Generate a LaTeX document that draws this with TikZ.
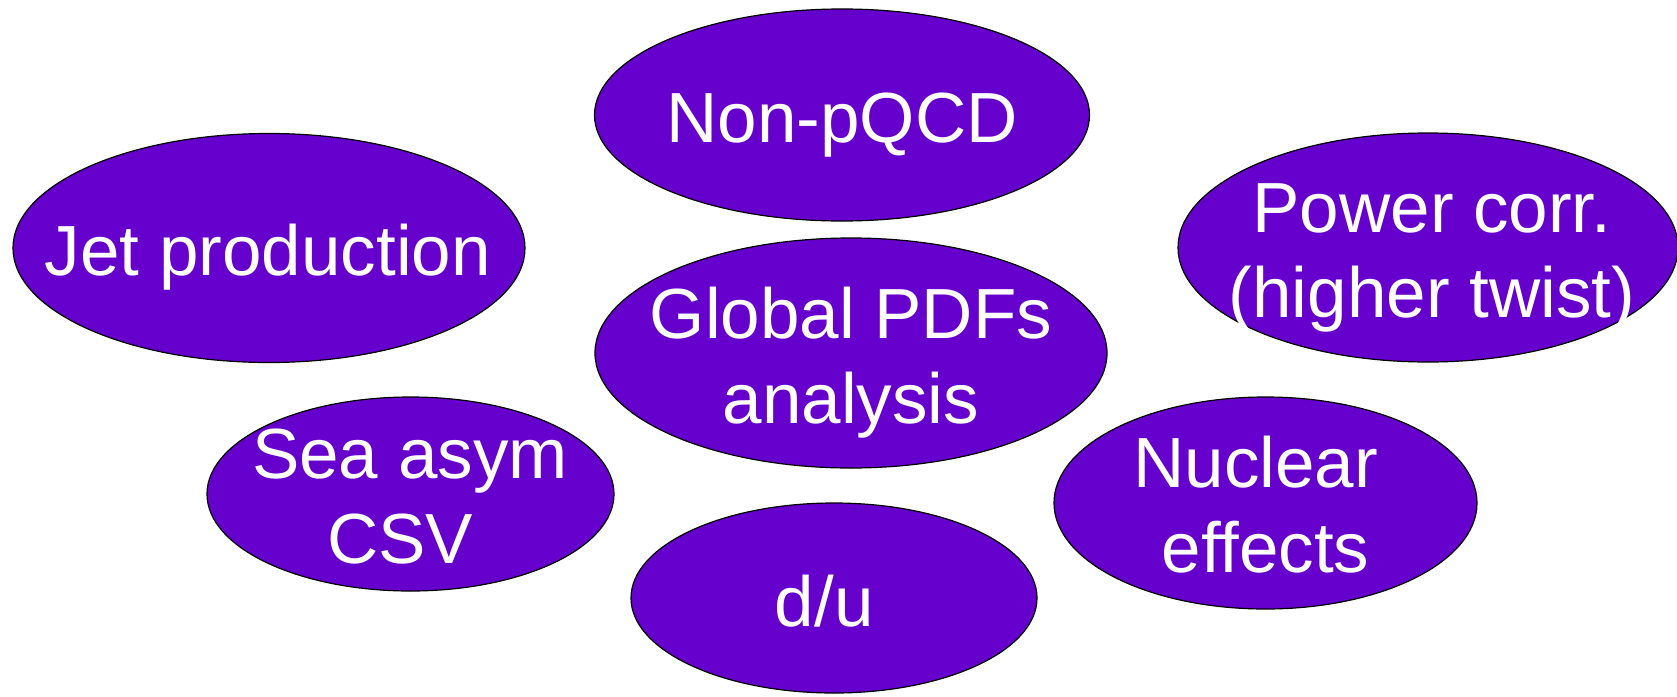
\documentclass[tikz,border=0pt]{standalone}
\usepackage{fontspec}
\setmainfont{Liberation Sans}
\usetikzlibrary{shapes.geometric}
\definecolor{bub}{HTML}{6600CC}
\newcommand{\twolines}[2]{\vtop{\baselineskip=85pt\halign{\hfil##\hfil\cr#1\cr#2\cr}}}
\begin{document}
\begin{tikzpicture}[x=1pt,y=-1pt,
  bubble/.style={ellipse, draw=black, line width=1.2pt, fill=bub, inner sep=0pt, outer sep=0pt},
  txt/.style={text=white, font=\fontsize{71}{85}\selectfont, inner sep=0pt, anchor=base}]
\useasboundingbox (0,0) rectangle (1677,696);
% ellipses
\node[bubble, minimum width=495pt, minimum height=212pt] (np) at (842,115) {};
\node[bubble, minimum width=512pt, minimum height=229pt] (jet) at (269,248) {};
\node[bubble, minimum width=500pt, minimum height=229pt] (pc) at (1428,247.5) {};
\node[bubble, minimum width=512pt, minimum height=230pt] (gl) at (851,353) {};
\node[bubble, minimum width=407pt, minimum height=194pt] (sea) at (410.5,494) {};
\node[bubble, minimum width=423pt, minimum height=212pt] (nuc) at (1265.5,503) {};
\node[bubble, minimum width=406pt, minimum height=190pt] (du) at (834,598) {};
% texts
\node[txt] (nptext) at (842,142) {Non-pQCD};
\node[txt] (jettext) at (268,275) {Jet production};
\node[txt] (pctext) at (1432,232) {\twolines{Power corr.}{(higher twist)}};
\node[txt] (gltext) at (851,338) {\twolines{Global PDFs}{analysis}};
\node[txt] (seatext) at (410,478) {\twolines{Sea asym}{CSV\kern.278em}};
\node[txt] (nuctext) at (1265.5,487) {\twolines{Nuclear\kern.278em}{effects}};
\node[txt] (dutext) at (834,626) {d/u\kern.278em};
\end{tikzpicture}
\end{document}
